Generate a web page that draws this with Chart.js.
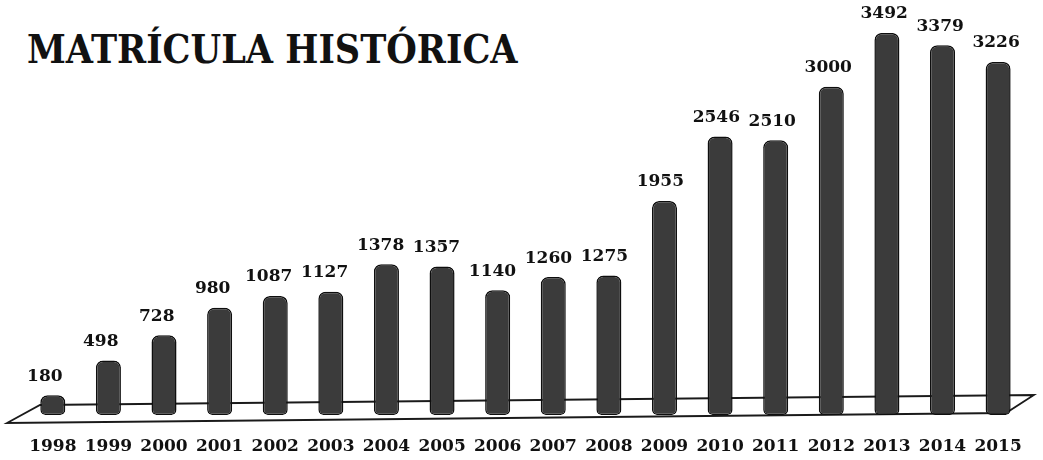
<!DOCTYPE html>
<html>
<head>
<meta charset="utf-8">
<script src="https://cdn.jsdelivr.net/npm/chart.js@4/dist/chart.umd.min.js"></script>
<style>
  html, body { margin: 0; padding: 0; background: #fff; }
  #wrap { position: relative; width: 1043px; height: 460px; }
  #title { position: absolute; left: 27px; top: 30px; margin: 0;
    font-family: "DejaVu Serif Condensed", "DejaVu Serif", serif; font-weight: bold;
    font-size: 39px; line-height: 1; color: #111; }
  canvas { position: absolute; left: 0; top: 0; }
</style>
</head>
<body>
<div id="wrap">
  <h1 id="title">MATRÍCULA HISTÓRICA</h1>
  <canvas id="c" width="1043" height="460"></canvas>
</div>
<script>
const years = ["1998","1999","2000","2001","2002","2003","2004","2005","2006","2007","2008","2009","2010","2011","2012","2013","2014","2015"];
const enrollment = [180, 498, 728, 980, 1087, 1127, 1378, 1357, 1140, 1260, 1275, 1955, 2546, 2510, 3000, 3492, 3379, 3226];

const labelFont = '"DejaVu Serif", serif';

const floorPlugin = {
  id: 'floor',
  beforeDatasetsDraw(chart) {
    const { ctx, chartArea: a } = chart;
    const fl = [a.left - 18, a.bottom + 8];
    const bl = [a.left + 15, a.bottom - 10];
    const br = [a.right + 8, a.bottom - 20];
    const fr = [a.right - 20, a.bottom - 2];
    ctx.save();
    ctx.strokeStyle = '#1a1a1a';
    ctx.lineWidth = 1.8;
    ctx.beginPath();
    ctx.moveTo(fl[0], fl[1]);
    ctx.lineTo(bl[0], bl[1]);
    ctx.lineTo(br[0], br[1]);
    ctx.lineTo(fr[0], fr[1]);
    ctx.closePath();
    ctx.stroke();
    ctx.restore();
  }
};

const valuePlugin = {
  id: 'values',
  afterDatasetsDraw(chart) {
    const { ctx } = chart;
    const meta = chart.getDatasetMeta(0);
    ctx.save();
    ctx.fillStyle = '#111';
    ctx.font = 'bold 17px ' + labelFont;
    ctx.textAlign = 'center';
    ctx.textBaseline = 'middle';
    const n = meta.data.length;
    meta.data.forEach((bar, i) => {
      const dx = -8 + 6 * i / (n - 1);
      ctx.fillText(String(enrollment[i]), bar.x + dx, bar.y - 19);
    });
    ctx.restore();
  }
};

new Chart(document.getElementById('c'), {
  type: 'bar',
  data: {
    labels: years,
    datasets: [{
      data: enrollment,
      backgroundColor: '#3b3b3b',
      borderColor: '#0e0e0e',
      borderWidth: 1.5,
      borderSkipped: false,
      borderRadius: { topLeft: 7, topRight: 7, bottomLeft: 5, bottomRight: 5 },
      barPercentage: 0.9,
      categoryPercentage: 0.5
    }]
  },
  options: {
    responsive: false,
    animation: false,
    devicePixelRatio: 1,
    layout: { padding: { left: 25, right: 8, top: 32, bottom: 0 } },
    plugins: {
      legend: { display: false },
      tooltip: { enabled: false },
      title: { display: false }
    },
    scales: {
      x: {
        afterFit(scale) { scale.height = 45; },
        grid: { display: false, drawTicks: false },
        border: { display: false },
        ticks: {
          color: '#111',
          padding: 21,
          maxRotation: 0,
          autoSkip: false,
          font: { family: labelFont, weight: 'bold', size: 17 }
        }
      },
      y: {
        display: false,
        min: 0,
        max: 3500
      }
    }
  },
  plugins: [floorPlugin, valuePlugin]
});
</script>
</body>
</html>
